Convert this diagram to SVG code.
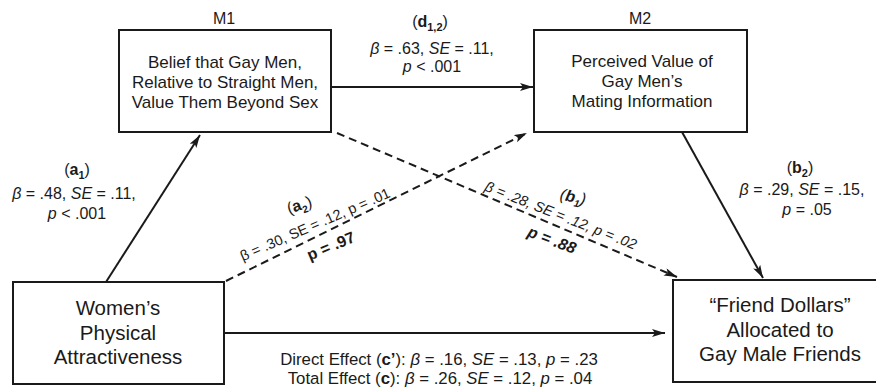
<svg xmlns="http://www.w3.org/2000/svg" width="876" height="387" viewBox="0 0 876 387">
<style>
text{font-family:"Liberation Sans",Arial,sans-serif;fill:#1a1a1a}
.box{fill:#fff;stroke:#1a1a1a;stroke-width:2}
.node{font-size:17px}
.big{font-size:20.5px}
.lab{font-size:16px}
.rot{font-size:14.5px}
.ttl{font-size:16px}
.ln{fill:none;stroke:#1a1a1a;stroke-width:2}
.dash{stroke-dasharray:8 5}
.b{font-weight:bold}
.i{font-style:italic}
</style>
<defs>
<marker id="ah" markerUnits="userSpaceOnUse" markerWidth="14" markerHeight="10" refX="13" refY="4" orient="auto">
<path d="M0,0 L13,4 L0,8 L3,4 z" fill="#1a1a1a"/>
</marker>
</defs>
<rect width="876" height="387" fill="#fff"/>
<g id="connectors">
<path class="ln" d="M331,87 L533,87" marker-end="url(#ah)"/>
<path class="ln" d="M106,282 L200,135" marker-end="url(#ah)"/>
<path class="ln dash" d="M226,281 L527,133" marker-end="url(#ah)"/>
<path class="ln dash" d="M337,133 L677,277" marker-end="url(#ah)"/>
<path class="ln" d="M682,132 L763,278" marker-end="url(#ah)"/>
<path class="ln" d="M225,333 L665,333" marker-end="url(#ah)"/>
</g>
<g id="m1">
<text class="ttl" x="224" y="24" text-anchor="middle">M1</text>
<rect class="box" x="119" y="30" width="212" height="102"/>
<text class="node" text-anchor="middle"><tspan x="225" y="67.5">Belief that Gay Men,</tspan><tspan x="225" y="87.5">Relative to Straight Men,</tspan><tspan x="225" y="107.5">Value Them Beyond Sex</tspan></text>
</g>
<g id="m2">
<text class="ttl" x="640" y="24" text-anchor="middle">M2</text>
<rect class="box" x="534" y="30" width="213" height="102"/>
<text class="node" text-anchor="middle"><tspan x="642" y="67">Perceived Value of</tspan><tspan x="642" y="87">Gay Men’s</tspan><tspan x="642" y="107">Mating Information</tspan></text>
</g>
<g id="women">
<rect class="box" x="13" y="282" width="211" height="102"/>
<text class="big" text-anchor="middle"><tspan x="118" y="315">Women’s</tspan><tspan x="118" y="340">Physical</tspan><tspan x="118" y="364">Attractiveness</tspan></text>
</g>
<g id="friend">
<rect class="box" x="673" y="280" width="215" height="102"/>
<text class="big" text-anchor="middle"><tspan x="780" y="312">“Friend Dollars”</tspan><tspan x="780" y="337">Allocated to</tspan><tspan x="780" y="361">Gay Male Friends</tspan></text>
</g>
<g id="labels">
<text class="lab" x="430" y="27" text-anchor="middle">(<tspan class="b">d</tspan><tspan class="b" font-size="11" dy="4">1,2</tspan><tspan dy="-4">)</tspan></text>
<text class="lab" x="432" y="54" text-anchor="middle"><tspan class="i">β</tspan> = .63, <tspan class="i">SE</tspan> = .11,</text>
<text class="lab" x="432" y="72" text-anchor="middle"><tspan class="i">p</tspan> &lt; .001</text>

<text class="lab" x="77" y="175" text-anchor="middle">(<tspan class="b">a</tspan><tspan class="b" font-size="11" dy="4">1</tspan><tspan dy="-4">)</tspan></text>
<text class="lab" x="74" y="199" text-anchor="middle"><tspan class="i">β</tspan> = .48, <tspan class="i">SE</tspan> = .11,</text>
<text class="lab" x="77" y="219" text-anchor="middle"><tspan class="i">p</tspan> &lt; .001</text>

<text class="lab" x="800" y="173" text-anchor="middle">(<tspan class="b">b</tspan><tspan class="b" font-size="11" dy="4">2</tspan><tspan dy="-4">)</tspan></text>
<text class="lab" x="802" y="195" text-anchor="middle"><tspan class="i">β</tspan> = .29, <tspan class="i">SE</tspan> = .15,</text>
<text class="lab" x="807" y="215" text-anchor="middle"><tspan class="i">p</tspan> = .05</text>

<text class="lab" x="439" y="365" text-anchor="middle" style="font-size:16.8px">Direct Effect (<tspan class="b">c’</tspan>): <tspan class="i">β</tspan> = .16, <tspan class="i">SE</tspan> = .13, <tspan class="i">p</tspan> = .23</text>
<text class="lab" x="440" y="384" text-anchor="middle" style="font-size:16.8px">Total Effect (<tspan class="b">c</tspan>): <tspan class="i">β</tspan> = .26, <tspan class="i">SE</tspan> = .12, <tspan class="i">p</tspan> = .04</text>

<text class="lab" x="301" y="210" text-anchor="middle" transform="rotate(-18 301 210)">(<tspan class="b">a</tspan><tspan class="b" font-size="10" dy="4">2</tspan><tspan dy="-4">)</tspan></text>
<text class="rot" x="317" y="229" text-anchor="middle" transform="rotate(-23.5 317 229)">β = .30, SE = .12, p = .01</text>
<text class="lab b" x="333" y="251" text-anchor="middle" transform="rotate(-23 333 251)">p = .97</text>

<text class="lab i" x="572" y="202" text-anchor="middle" transform="rotate(12 572 202)">(<tspan class="b">b</tspan><tspan class="b" font-size="10" dy="4">1</tspan><tspan dy="-4">)</tspan></text>
<text class="rot i" x="559" y="220" text-anchor="middle" transform="rotate(21.5 559 220)">β = .28, SE = .12, p = .02</text>
<text class="lab b i" x="550" y="245" text-anchor="middle" transform="rotate(21 550 245)">p = .88</text>
</g>
</svg>
